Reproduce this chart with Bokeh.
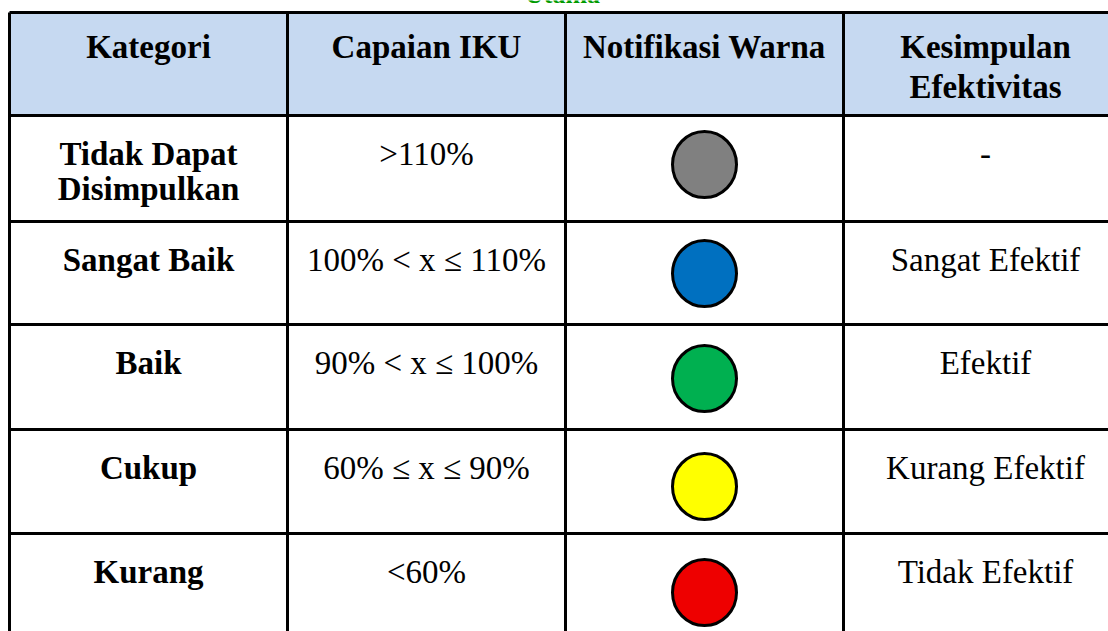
from bokeh.plotting import figure
from bokeh.models import Range1d
from bokeh.core.properties import value
from bokeh.embed import file_html
from bokeh.resources import INLINE

# ---- data ----
caption = "Utama"
headers = ["Kategori", "Capaian IKU", "Notifikasi Warna", "Kesimpulan\nEfektivitas"]
kategori = ["Tidak Dapat\nDisimpulkan", "Sangat Baik", "Baik", "Cukup", "Kurang"]
capaian = [">110%", "100% < x ≤ 110%", "90% < x ≤ 100%", "60% ≤ x ≤ 90%", "<60%"]
warna = ["#808080", "#0070C0", "#00B050", "#FFFF00", "#EE0000"]
kesimpulan = ["-", "Sangat Efektif", "Efektif", "Kurang Efektif", "Tidak Efektif"]

# ---- layout (pixel grid of the page) ----
W, H = 1108, 631
col_edges = [9, 287, 565, 843, 1140]
row_edges = [12, 115, 221, 324, 429, 533, 650]
col_centers = [148, 426, 704, 985]
header_bg = "#C6D9F1"
font = "Liberation Serif"
fs = "33px"
header_gap = 40
body_gap = 35
text_offset = 38
circle_offsets = [49, 52, 54, 57, 59]

p = figure(width=W, height=H, x_range=Range1d(0, W), y_range=Range1d(H, 0),
           output_backend="svg", toolbar_location=None, min_border=0)
p.axis.visible = False
p.grid.visible = False
p.outline_line_color = None
p.background_fill_color = "white"
p.border_fill_color = "white"

# caption above the table, cut off by the top edge as in the reference
p.text(x=[562], y=[-6], text=[caption], text_font=value(font), text_font_size="26px",
       text_font_style="bold", text_color="#009A00", text_align="center",
       text_baseline="middle")

# header background
p.quad(left=[col_edges[0]], right=[col_edges[-1]], top=[row_edges[0]], bottom=[row_edges[1]],
       fill_color=header_bg, line_color=None)

# grid lines
p.segment(x0=[col_edges[0]] * 6, x1=[col_edges[-1]] * 6, y0=row_edges[:6], y1=row_edges[:6],
          line_color="black", line_width=3)
p.segment(x0=col_edges[:4], x1=col_edges[:4], y0=[row_edges[0]] * 4, y1=[row_edges[-1]] * 4,
          line_color="black", line_width=3)

def add_text(xs, ys, texts, bold, gap):
    lx, ly, lt = [], [], []
    for x, y, t in zip(xs, ys, texts):
        for i, line in enumerate(t.split("\n")):
            lx.append(x); ly.append(y + i * gap); lt.append(line)
    p.text(x=lx, y=ly, text=lt, text_font=value(font), text_font_size=fs,
           text_font_style="bold" if bold else "normal", text_color="black",
           text_align="center", text_baseline="middle")

# header texts
add_text(col_centers, [row_edges[0] + 34] * 4, headers, True, header_gap)

rows_top = row_edges[1:6]
add_text([col_centers[0]] * 5, [r + text_offset for r in rows_top], kategori, True, body_gap)
add_text([col_centers[1]] * 5, [r + text_offset for r in rows_top], capaian, False, body_gap)
add_text([col_centers[3]] * 5, [r + text_offset for r in rows_top], kesimpulan, False, body_gap)

# colour notification circles
p.ellipse(x=[col_centers[2]] * 5, y=[r + o for r, o in zip(rows_top, circle_offsets)],
          width=64, height=66, fill_color=warna, line_color="black", line_width=3)

open("out.html", "w").write(file_html(p, INLINE))
